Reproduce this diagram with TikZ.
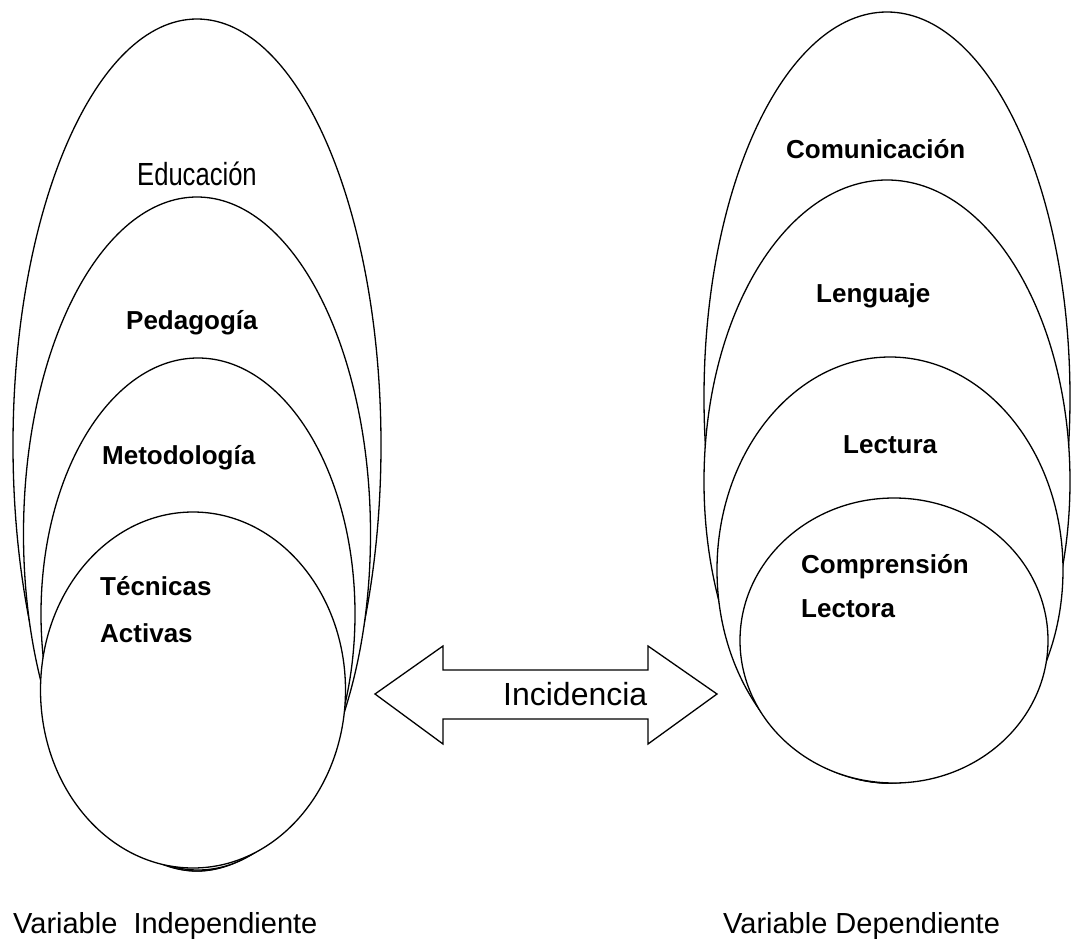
\documentclass[tikz,border=0pt]{standalone}
\usepackage{fontspec}
\setmainfont{Liberation Sans}
\usetikzlibrary{shapes.geometric}
\begin{document}
\begin{tikzpicture}[x=1pt,y=-1pt,
  ring/.style={draw, fill=white, ellipse, line width=1.3pt, inner sep=0pt, outer sep=0pt},
  lbl/.style={font=\fontsize{26}{30}\selectfont\bfseries, inner sep=0pt, anchor=base west},
  plainlbl/.style={font=\fontsize{29}{34}\selectfont, inner sep=0pt, anchor=base west},
  bigarrow/.style={draw, line width=1.3pt, line join=miter}]
\useasboundingbox (0,0) rectangle (1072,940);
% left nest
\node[ring, minimum width=368pt, minimum height=852pt] (edu) at (197,445) {};
\node[ring, minimum width=347pt, minimum height=674pt] (ped) at (197,534) {};
\node[ring, minimum width=314pt, minimum height=512pt] (met) at (198,614) {};
\node[ring, minimum width=305pt, minimum height=356pt] (tec) at (193,690) {};
% right nest
\node[ring, minimum width=366pt, minimum height=771pt] (com) at (887,397.5) {};
\node[ring, minimum width=366pt, minimum height=603pt] (len) at (887,481.5) {};
\node[ring, minimum width=346pt, minimum height=426pt] (lec) at (890,570) {};
\node[ring, minimum width=308pt, minimum height=285pt] (cl) at (894,640.5) {};
% labels
\node[inner sep=0pt, anchor=base west, font=\fontsize{32}{36}\selectfont] (tedu) at (137,185) {\scalebox{0.8}[1]{Educación}};
\node[lbl] (tped) at (126,329) {Pedagogía};
\node[lbl] (tmet) at (102,464) {Metodología};
\node[lbl] (ttec) at (100,595) {Técnicas};
\node[lbl] (tact) at (100,642) {Activas};
\node[lbl] (tcom) at (786,158) {Comunicación};
\node[lbl] (tlen) at (816,302) {Lenguaje};
\node[lbl] (tlec) at (843,453) {Lectura};
\node[lbl] (tcomp) at (801,573) {Comprensión};
\node[lbl] (tlect) at (801,617) {Lectora};
% double arrow
\coordinate (tipL) at (375,694);
\coordinate (tipR) at (717,694);
\draw[bigarrow] (tipL) -- (443,646) -- (443,670) -- (648,670) -- (648,646) -- (tipR)
  -- (648,744) -- (648,719) -- (443,719) -- (443,744) -- cycle;
\node[inner sep=0pt, anchor=base west, font=\fontsize{32}{36}\selectfont] (tinc) at (503,705) {Incidencia};
% bottom captions
\node[plainlbl] (vi) at (13,933) {Variable\ \ Independiente};
\node[plainlbl] (vd) at (723,933) {Variable Dependiente};
\end{tikzpicture}
\end{document}
